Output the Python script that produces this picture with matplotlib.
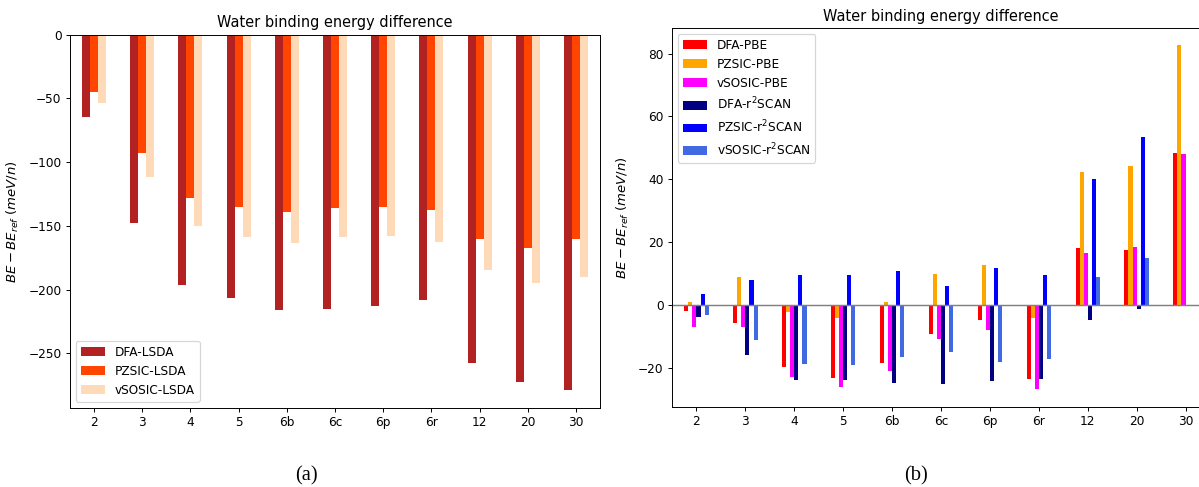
import matplotlib
matplotlib.use("Agg")
import matplotlib.pyplot as plt
import numpy as np
import pandas as pd

# water cluster labels
clusters = ["2", "3", "4", "5", "6b", "6c", "6p", "6r", "12", "20", "30"]

# (a) LSDA binding energy error, meV per water
dfa_lsda = [-64.8, -147.4, -196.1, -206.3, -216.2, -215.2, -213.3, -208.4, -257.5, -272.8, -278.8]
pzsic_lsda = [-45.1, -93.0, -127.9, -135.2, -139.3, -135.9, -135.2, -137.8, -160.7, -167.3, -160.7]
vsosic_lsda = [-53.6, -111.7, -150.3, -158.8, -163.7, -159.0, -157.9, -162.9, -184.6, -194.8, -190.1]

# (b) PBE and r2SCAN binding energy error, meV per water
dfa_pbe = [-2.1, -5.9, -19.7, -23.4, -18.7, -9.3, -4.9, -23.7, 18.1, 17.4, 48.3]
pzsic_pbe = [0.85, 8.7, -2.2, -4.3, 0.95, 9.9, 12.7, -4.1, 42.3, 44.1, 82.7]
vsosic_pbe = [-7.1, -7.2, -22.9, -26.3, -21.2, -11.0, -7.9, -27.0, 16.6, 18.3, 48.0]
dfa_r2scan = [-4.0, -16.0, -24.0, -24.0, -25.0, -25.1, -24.3, -23.7, -4.7, -1.4, np.nan]
pzsic_r2scan = [3.3, 7.8, 9.6, 9.4, 10.8, 5.9, 11.6, 9.6, 40.0, 53.3, np.nan]
vsosic_r2scan = [-3.4, -11.1, -18.8, -19.2, -16.8, -14.9, -18.3, -17.2, 8.9, 15.0, np.nan]

lsda = pd.DataFrame({"DFA-LSDA": dfa_lsda,
                     "PZSIC-LSDA": pzsic_lsda,
                     "vSOSIC-LSDA": vsosic_lsda}, index=clusters)
pbe_scan = pd.DataFrame({"DFA-PBE": dfa_pbe,
                         "PZSIC-PBE": pzsic_pbe,
                         "vSOSIC-PBE": vsosic_pbe,
                         "DFA-r$^2$SCAN": dfa_r2scan,
                         "PZSIC-r$^2$SCAN": pzsic_r2scan,
                         "vSOSIC-r$^2$SCAN": vsosic_r2scan}, index=clusters)

ylab = r"$BE - BE_{ref}\ (meV/n)$"
title = "Water binding energy difference"

# figure was drawn larger and shrunk, so render at a lower dpi
dpi = 87
fig = plt.figure(figsize=(1199 / dpi, 487 / dpi), dpi=dpi)
ax1 = fig.add_axes([70 / 1199, 79.3 / 487, 530 / 1199, 373 / 487])
ax2 = fig.add_axes([672 / 1199, 80.3 / 487, 538 / 1199, 378.7 / 487])

lsda.plot.bar(ax=ax1, rot=0, color=["firebrick", "orangered", "peachpuff"])
ax1.set_title(title)
ax1.set_ylabel(ylab, fontsize=11, labelpad=6)
ax1.legend(loc="lower left")

pbe_scan.plot.bar(ax=ax2, rot=0,
                  color=["red", "orange", "magenta", "navy", "blue", "royalblue"])
ax2.axhline(0, color="grey", lw=1.2)
ax2.set_title(title)
ax2.set_ylabel(ylab, fontsize=11, labelpad=6)
ax2.legend(loc="upper left")

fig.text(306 / 1199, 1 - 476 / 487, "(a)", ha="center", va="center",
         fontsize=17, family="Liberation Serif")
fig.text(916 / 1199, 1 - 476 / 487, "(b)", ha="center", va="center",
         fontsize=17, family="Liberation Serif")

fig.savefig("out.png", dpi=dpi)
